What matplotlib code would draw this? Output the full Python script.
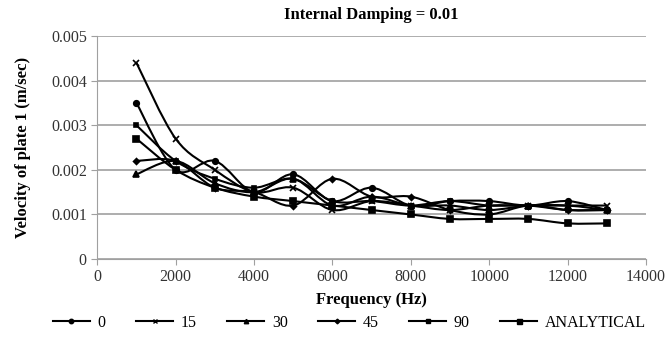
import numpy as np
import matplotlib.pyplot as plt
from matplotlib.path import Path
from matplotlib.patches import PathPatch

plt.rcParams['font.family'] = ['Liberation Serif', 'DejaVu Serif']

freq = [1000, 2000, 3000, 4000, 5000, 6000, 7000, 8000, 9000, 10000, 11000, 12000, 13000]
v0 = [0.0035, 0.0020, 0.0022, 0.0015, 0.0019, 0.0013, 0.0016, 0.0012, 0.0013, 0.0013, 0.0012, 0.0013, 0.0011]
v15 = [0.0044, 0.0027, 0.0020, 0.0015, 0.0016, 0.0011, 0.0013, 0.0012, 0.0011, 0.0012, 0.0012, 0.0012, 0.0012]
v30 = [0.0019, 0.0022, 0.0017, 0.0015, 0.0018, 0.0012, 0.0014, 0.0012, 0.0012, 0.0011, 0.0012, 0.0012, 0.0011]
v45 = [0.0022, 0.0022, 0.0016, 0.0015, 0.0012, 0.0018, 0.0014, 0.0014, 0.0011, 0.0010, 0.0012, 0.0011, 0.0011]
v90 = [0.0030, 0.0022, 0.0018, 0.0016, 0.0018, 0.0013, 0.0013, 0.0012, 0.0013, 0.0012, 0.0012, 0.0011, 0.0011]
vana = [0.0027, 0.0020, 0.0016, 0.0014, 0.0013, 0.0012, 0.0011, 0.0010, 0.0009, 0.0009, 0.0009, 0.0008, 0.0008]

series = [("0", v0, "o", 4), ("15", v15, "x", 4), ("30", v30, "^", 4),
          ("45", v45, "D", 3), ("90", v90, "s", 3), ("ANALYTICAL", vana, "s", 4.5)]


def smooth_path(x, y):
    # excel-like smoothed line: catmull-rom turned into cubic bezier segments
    x = np.asarray(x, float)
    y = np.asarray(y, float)
    verts = [(x[0], y[0])]
    codes = [Path.MOVETO]
    n = len(x)
    for i in range(n - 1):
        i0 = max(i - 1, 0)
        i3 = min(i + 2, n - 1)
        c1 = (x[i] + (x[i + 1] - x[i0]) / 6, y[i] + (y[i + 1] - y[i0]) / 6)
        c2 = (x[i + 1] - (x[i3] - x[i]) / 6, y[i + 1] - (y[i3] - y[i]) / 6)
        verts += [c1, c2, (x[i + 1], y[i + 1])]
        codes += [Path.CURVE4] * 3
    return Path(verts, codes)


fig = plt.figure(figsize=(6.66, 3.4), dpi=100)
ax = fig.add_axes([0.146, 0.238, 0.824, 0.656])

for name, vals, mk, ms in series:
    ax.add_patch(PathPatch(smooth_path(freq, vals), fill=False, ec="black", lw=1.5, zorder=3))
    ax.plot(freq, vals, ls="none", marker=mk, ms=ms, color="black", mew=1.2, zorder=4)
    ax.plot([], [], color="black", lw=1.5, marker=mk, ms=ms * 0.8, mew=1.0, label=name)

ax.set_xlim(0, 14000)
ax.set_ylim(0, 0.005)
ax.set_xticks(range(0, 14001, 2000))
ax.set_yticks([0, 0.001, 0.002, 0.003, 0.004, 0.005])
ax.set_yticklabels(["0", "0.001", "0.002", "0.003", "0.004", "0.005"])
ax.grid(axis="y", color="#a0a0a0", lw=1.2)
ax.set_axisbelow(True)
for s in ["top", "right"]:
    ax.spines[s].set_visible(False)
for s in ["left", "bottom"]:
    ax.spines[s].set_color("#a0a0a0")
ax.tick_params(colors="#a0a0a0", labelcolor="#333333", labelsize=11.5, length=4)

ax.set_title("Internal Damping = 0.01", fontsize=12, fontweight="bold", pad=12)
ax.set_xlabel("Frequency (Hz)", fontsize=12, fontweight="bold", labelpad=5)
ax.set_ylabel("Velocity of plate 1 (m/sec)", fontsize=12, fontweight="bold", labelpad=14)

fig.legend(loc="lower center", bbox_to_anchor=(0.525, -0.015), ncol=6, frameon=False,
           fontsize=11.5, handlelength=2.3, columnspacing=1.9, handletextpad=0.5)

fig.savefig("out.png", dpi=100)
